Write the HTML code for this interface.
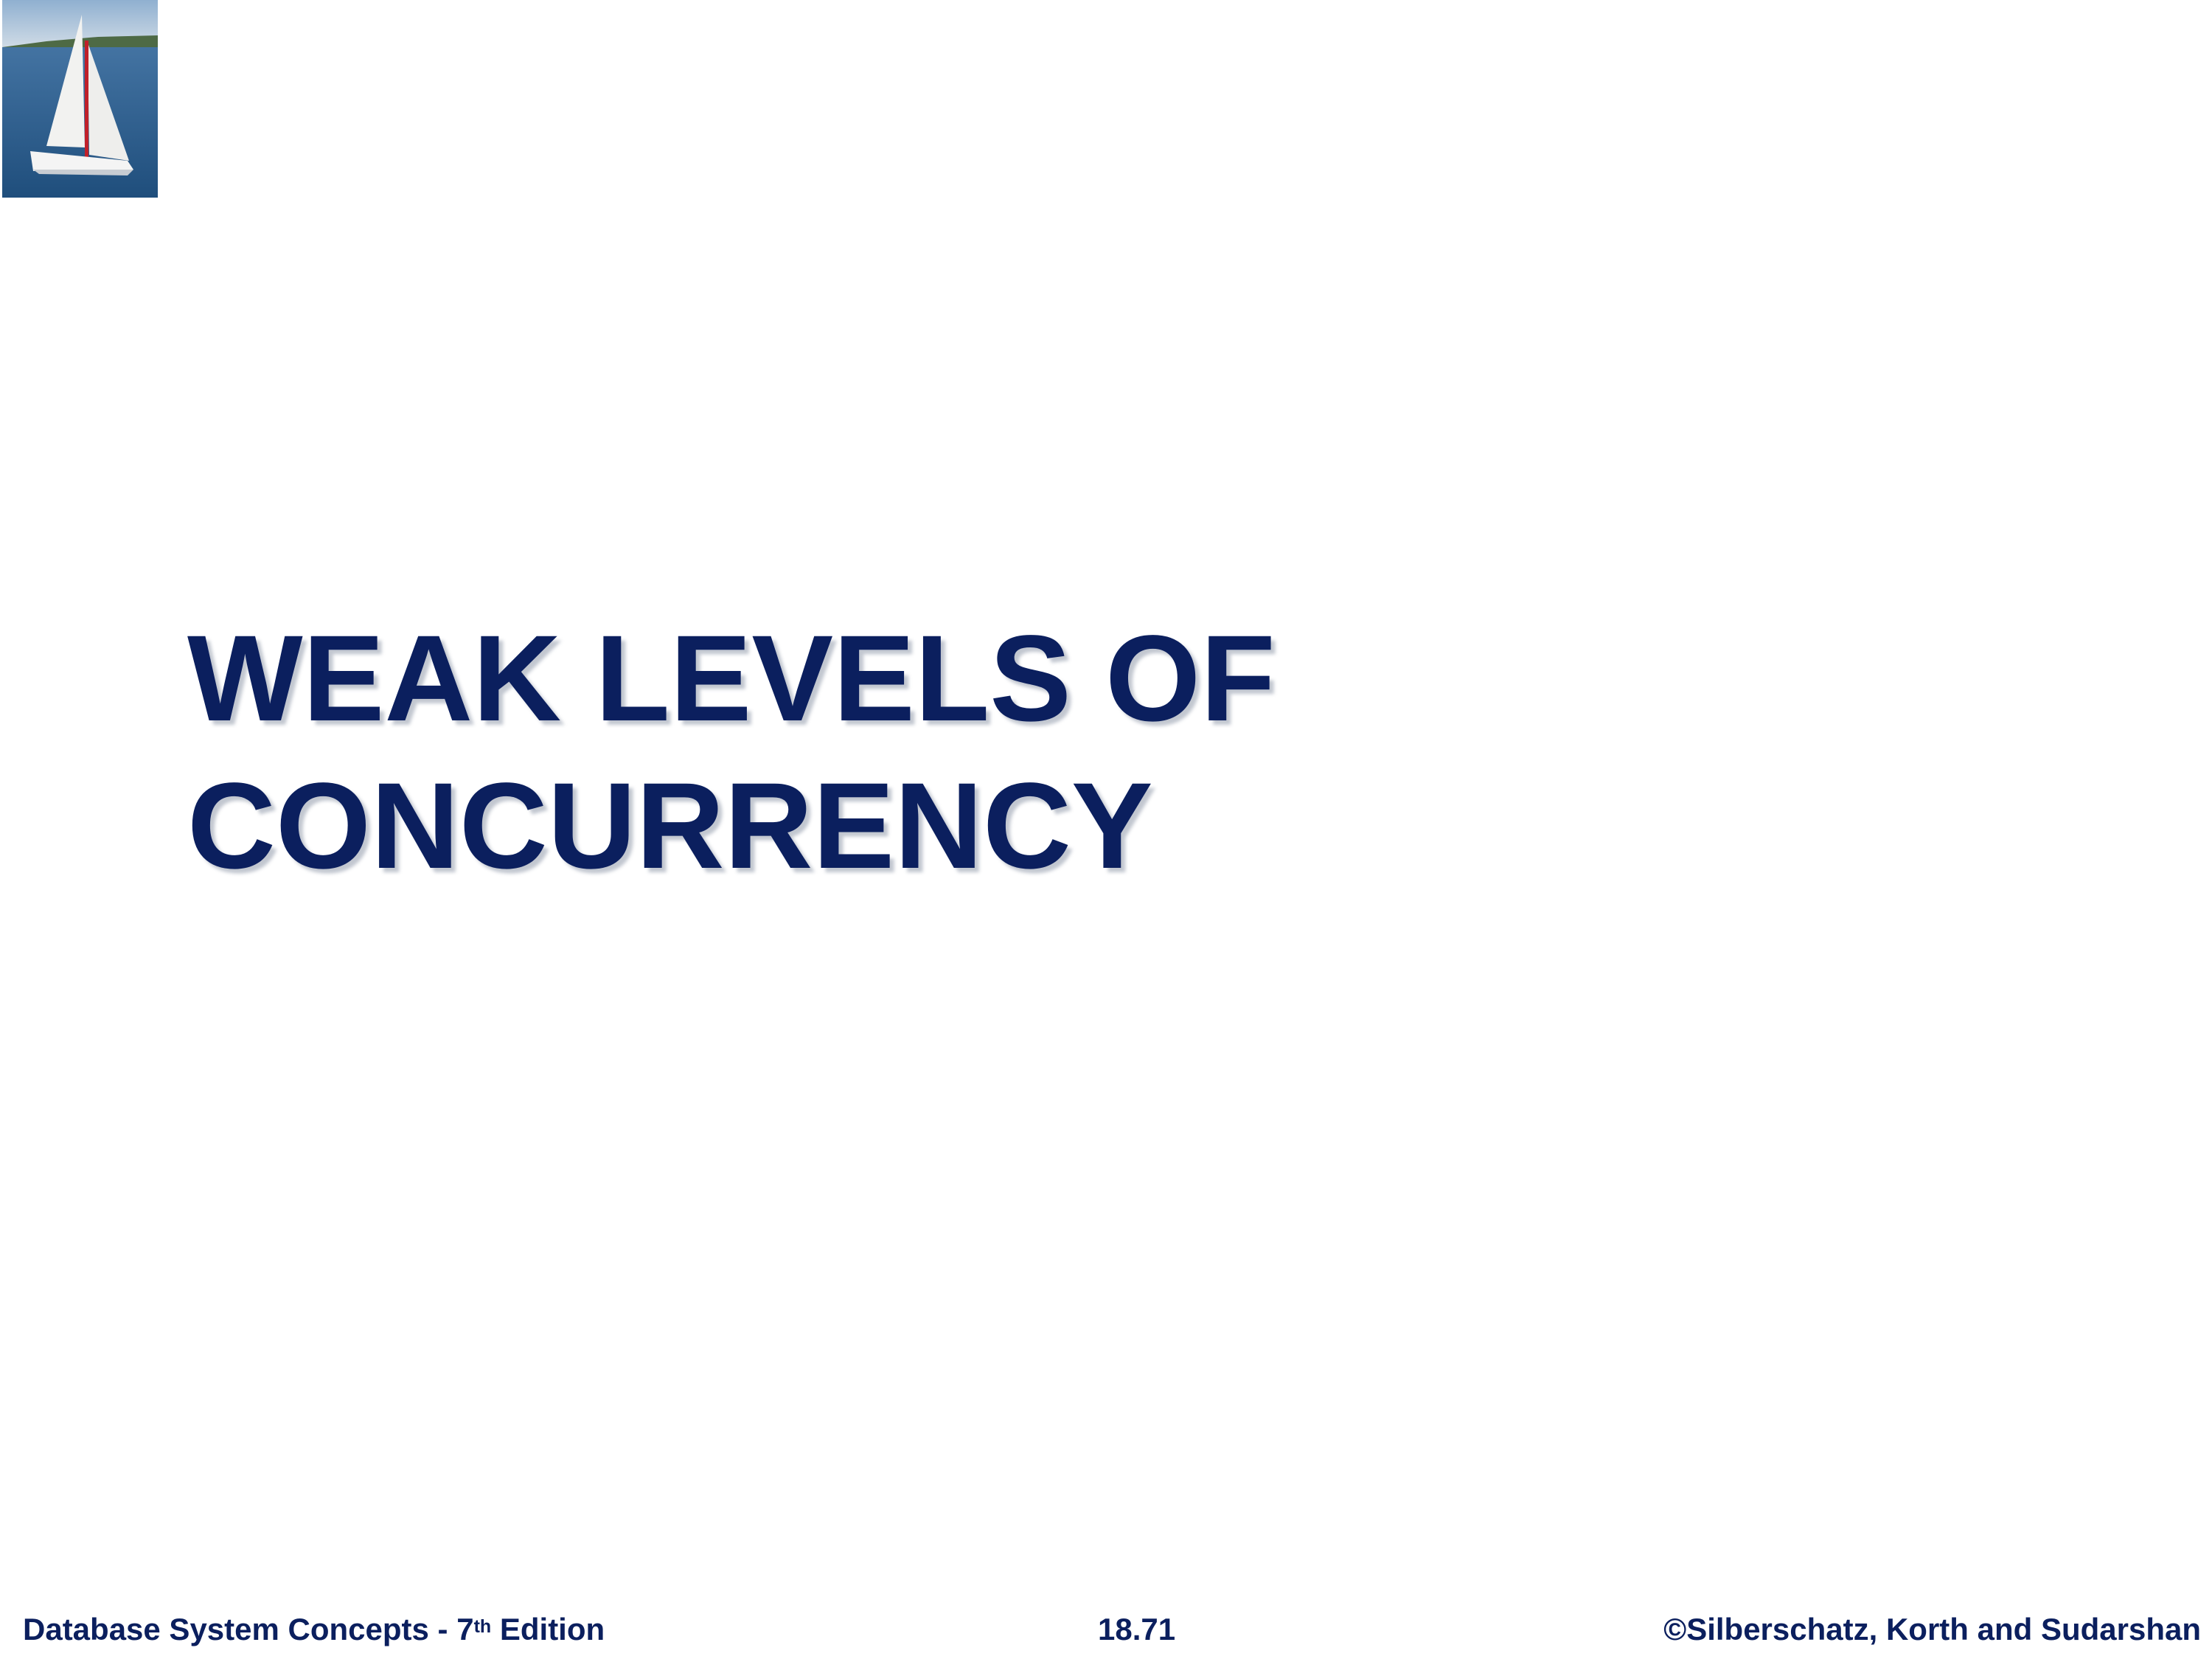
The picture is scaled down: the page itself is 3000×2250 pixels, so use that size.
<!DOCTYPE html>
<html><head><meta charset="utf-8"><style>
html,body{margin:0;padding:0;background:#fff;}
body{width:3000px;height:2250px;position:relative;overflow:hidden;font-family:"Liberation Sans",Arial,sans-serif;}
.title{position:absolute;left:254px;font-weight:bold;font-size:166px;color:#0b1f5e;white-space:nowrap;line-height:1;text-shadow:6px 6px 5px rgba(120,130,150,0.45);}
.foot{position:absolute;top:2187px;font-weight:bold;font-size:42px;color:#0b1f5e;white-space:nowrap;line-height:46px;}
sup{font-size:25px;vertical-align:top;position:relative;top:-4px;}
</style></head><body>
<svg style="position:absolute;left:3px;top:0" width="211" height="268" viewBox="0 0 211 268">
<defs>
<linearGradient id="sky" x1="0" y1="0" x2="0" y2="1"><stop offset="0" stop-color="#8fb0d0"/><stop offset="1" stop-color="#cfdbe6"/></linearGradient>
<linearGradient id="sea" x1="0" y1="0" x2="0" y2="1"><stop offset="0" stop-color="#4f7fae"/><stop offset="1" stop-color="#1f4e7c"/></linearGradient>
</defs>
<rect width="211" height="268" fill="url(#sea)"/>
<rect width="211" height="64" fill="url(#sky)"/>
<path d="M0 64 L60 56 L130 50 L211 48 L211 64 Z" fill="#4e6a45"/>
<path d="M108 20 L60 198 L112 200 Z" fill="#f2f2f0"/>
<path d="M116 58 L118 210 L172 218 Z" fill="#eeeeec"/>
<rect x="112" y="55" width="5" height="160" fill="#c0202a"/>
<path d="M38 205 L170 218 L178 230 L42 232 Z" fill="#f4f4f4"/>
<path d="M42 230 L178 230 L170 238 L50 236 Z" fill="#c8ccd2"/>
</svg>
<div class="title" style="top:838px;">WEAK LEVELS OF</div>
<div class="title" style="top:1038px;">CONCURRENCY</div>
<div class="foot" style="left:31px;">Database System Concepts - 7<sup>th</sup> Edition</div>
<div class="foot" style="left:1489px;">18.71</div>
<div class="foot" style="right:15px;">©Silberschatz, Korth and Sudarshan</div>
</body></html>
